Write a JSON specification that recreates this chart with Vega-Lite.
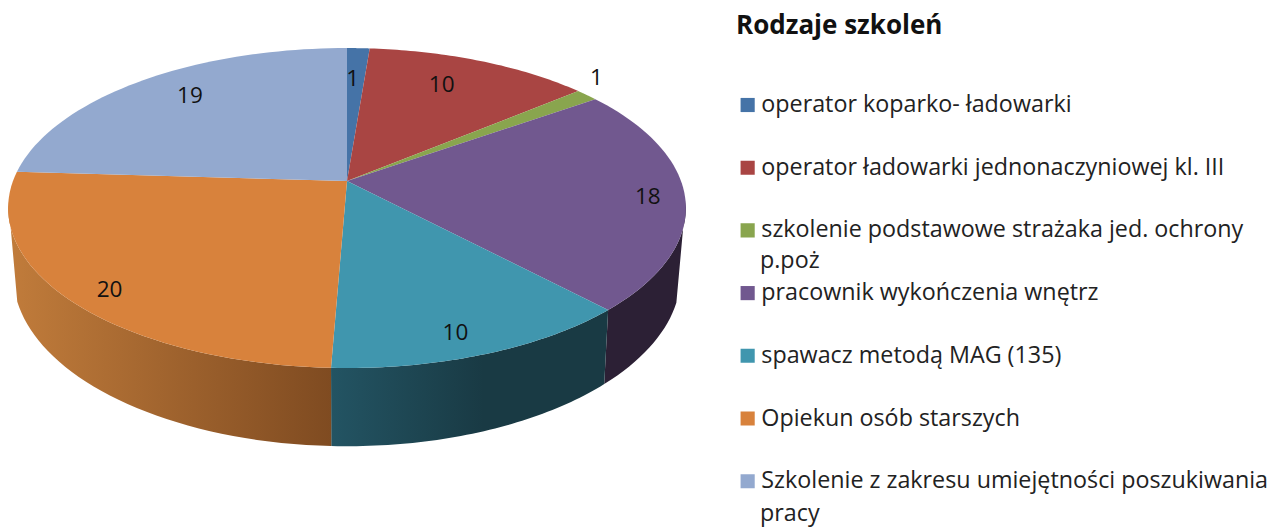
{"$schema":"https://vega.github.io/schema/vega-lite/v6.json","width":1277,"height":528,"autosize":"none","padding":0,"background":"white","config":{"view":{"stroke":null},"text":{"font":"Open Sans"}},
"datasets":{"d":[{"name":"operator koparko- ładowarki","value":1},{"name":"operator ładowarki jednonaczyniowej kl. III","value":10},{"name":"szkolenie podstawowe strażaka jed. ochrony p.poż","value":1},{"name":"pracownik wykończenia wnętrz","value":18},{"name":"spawacz metodą MAG (135)","value":10},{"name":"Opiekun osób starszych","value":20},{"name":"Szkolenie z zakresu umiejętności poszukiwania pracy","value":19}]},
"data":{"name":"d"},
"transform":[{"window":[{"op":"sum","field":"value","as":"c1"}],"frame":[null,0]},{"joinaggregate":[{"op":"sum","field":"value","as":"tot"}]}],
"encoding":{"x":{"field":"px","type":"quantitative","scale":{"domain":[0,1277]},"axis":null},"y":{"field":"py","type":"quantitative","scale":{"domain":[0,528],"reverse":true},"axis":null}},
"layer":[
{"transform":[{"filter":"datum.value==18"},{"calculate":"sequence(0,102)","as":"s"},{"flatten":["s"]},{"calculate":"datum.s<=50?datum.s/50:(101-datum.s)/50","as":"f"},{"calculate":"2*PI*(datum.c1-datum.value+datum.value*datum.f)/datum.tot","as":"a"},{"filter":"datum.s<=50?cos(datum.a)<=-0.1:cos(datum.a)<=-0.3"},{"calculate":"1+0.169*cos(datum.a)","as":"dd"},{"calculate":"347+(datum.s<=50?334:329)*sin(datum.a)/datum.dd","as":"px"},{"calculate":"181-155.4*cos(datum.a)/datum.dd+(datum.s<=50?0:65)/datum.dd","as":"py"}],"mark":{"type":"line","fill":"#2c2035","strokeWidth":0},"encoding":{"order":{"field":"s","type":"quantitative"}}},
{"transform":[{"filter":"datum.value==10&&datum.c1>30"},{"calculate":"sequence(0,102)","as":"s"},{"flatten":["s"]},{"calculate":"datum.s<=50?datum.s/50:(101-datum.s)/50","as":"f"},{"calculate":"2*PI*(datum.c1-datum.value+datum.value*datum.f)/datum.tot","as":"a"},{"calculate":"1+0.169*cos(datum.a)","as":"dd"},{"calculate":"347+(datum.s<=50?334:329)*sin(datum.a)/datum.dd","as":"px"},{"calculate":"181-155.4*cos(datum.a)/datum.dd+(datum.s<=50?0:65)/datum.dd","as":"py"}],"mark":{"type":"line","strokeWidth":0,"fill":{"x1":0,"x2":1,"y1":0,"y2":0,"gradient":"linear","stops":[{"offset":0,"color":"#235463"},{"offset":0.55,"color":"#193a44"},{"offset":1,"color":"#193a44"}]}},"encoding":{"order":{"field":"s","type":"quantitative"}}},
{"transform":[{"filter":"datum.value==20"},{"calculate":"sequence(0,102)","as":"s"},{"flatten":["s"]},{"calculate":"datum.s<=50?datum.s/50:(101-datum.s)/50","as":"f"},{"calculate":"2*PI*(datum.c1-datum.value+datum.value*datum.f)/datum.tot","as":"a"},{"filter":"datum.s<=50?cos(datum.a)<=-0.1:cos(datum.a)<=-0.3"},{"calculate":"1+0.169*cos(datum.a)","as":"dd"},{"calculate":"347+(datum.s<=50?334:329)*sin(datum.a)/datum.dd","as":"px"},{"calculate":"181-155.4*cos(datum.a)/datum.dd+(datum.s<=50?0:65)/datum.dd","as":"py"}],"mark":{"type":"line","strokeWidth":0,"fill":{"x1":0,"x2":1,"y1":0,"y2":0,"gradient":"linear","stops":[{"offset":0,"color":"#c17c3b"},{"offset":1,"color":"#7f4b21"}]}},"encoding":{"order":{"field":"s","type":"quantitative"}}},
{"transform":[{"calculate":"sequence(0,52)","as":"s"},{"flatten":["s"]},{"calculate":"datum.s==0?0:(datum.s-1)/50","as":"f"},{"calculate":"2*PI*(datum.c1-datum.value+datum.value*datum.f)/datum.tot","as":"a"},{"calculate":"1+0.169*cos(datum.a)","as":"dd"},{"calculate":"datum.s==0?347:347+334*sin(datum.a)/datum.dd","as":"px"},{"calculate":"datum.s==0?181:181-155.4*cos(datum.a)/datum.dd","as":"py"}],"mark":{"type":"line","strokeWidth":0},"encoding":{"order":{"field":"s","type":"quantitative"},"detail":{"field":"name"},"fill":{"field":"name","type":"nominal","sort":null,"scale":{"range":["#4573a7","#a94543","#89a54e","#71588f","#4096ae","#d8823c","#93a9cf"]},"legend":{"orient":"none","legendX":736,"legendY":13,"title":"Rodzaje szkoleń","titleFont":"Open Sans","titleFontSize":26,"titleFontWeight":"bold","titleColor":"#111","titlePadding":52,"titleLimit":400,"labelFont":"Open Sans","labelFontSize":23.3,"labelColor":"#222","labelLimit":600,"labelOffset":2,"symbolType":"square","symbolSize":200,"symbolStrokeWidth":0,"rowPadding":34.7,"clipHeight":28,"labelExpr":"replace(replace(datum.label,' p.poż',''),' pracy','')","encoding":{"title":{"update":{"x":{"value":6}}}}}}}},
{"transform":[{"filter":"datum.c1==12||datum.c1==79"},{"calculate":"datum.c1==12?'p.poż':'pracy'","as":"line2"},{"calculate":"760","as":"px"},{"calculate":"datum.c1==12?261:514","as":"py"}],"mark":{"type":"text","align":"left","fontSize":23.3,"font":"Open Sans","color":"#222"},"encoding":{"text":{"field":"line2","type":"nominal"}}},
{"transform":[{"calculate":"2*PI*(datum.c1-datum.value/2)/datum.tot","as":"a"},{"calculate":"1+0.169*cos(datum.a)","as":"dd"},{"calculate":"datum.c1==1?0.5:datum.c1==11?0.71:datum.c1==12?1.04:datum.value==18?0.89:datum.value==10?0.78:datum.value==20?0.85:0.77","as":"rx"},{"calculate":"datum.c1==1?0.77:datum.c1==11?0.8:datum.c1==12?1.2:datum.value==18?1.0:datum.value==10?0.88:datum.value==20?0.93:0.84","as":"ry"},{"calculate":"347+334*datum.rx*sin(datum.a)/datum.dd","as":"px"},{"calculate":"181-155.4*datum.ry*cos(datum.a)/datum.dd","as":"py"}],"mark":{"type":"text","fontSize":22.5,"font":"Open Sans","color":"#111"},"encoding":{"text":{"field":"value","type":"quantitative"}}}
]}
